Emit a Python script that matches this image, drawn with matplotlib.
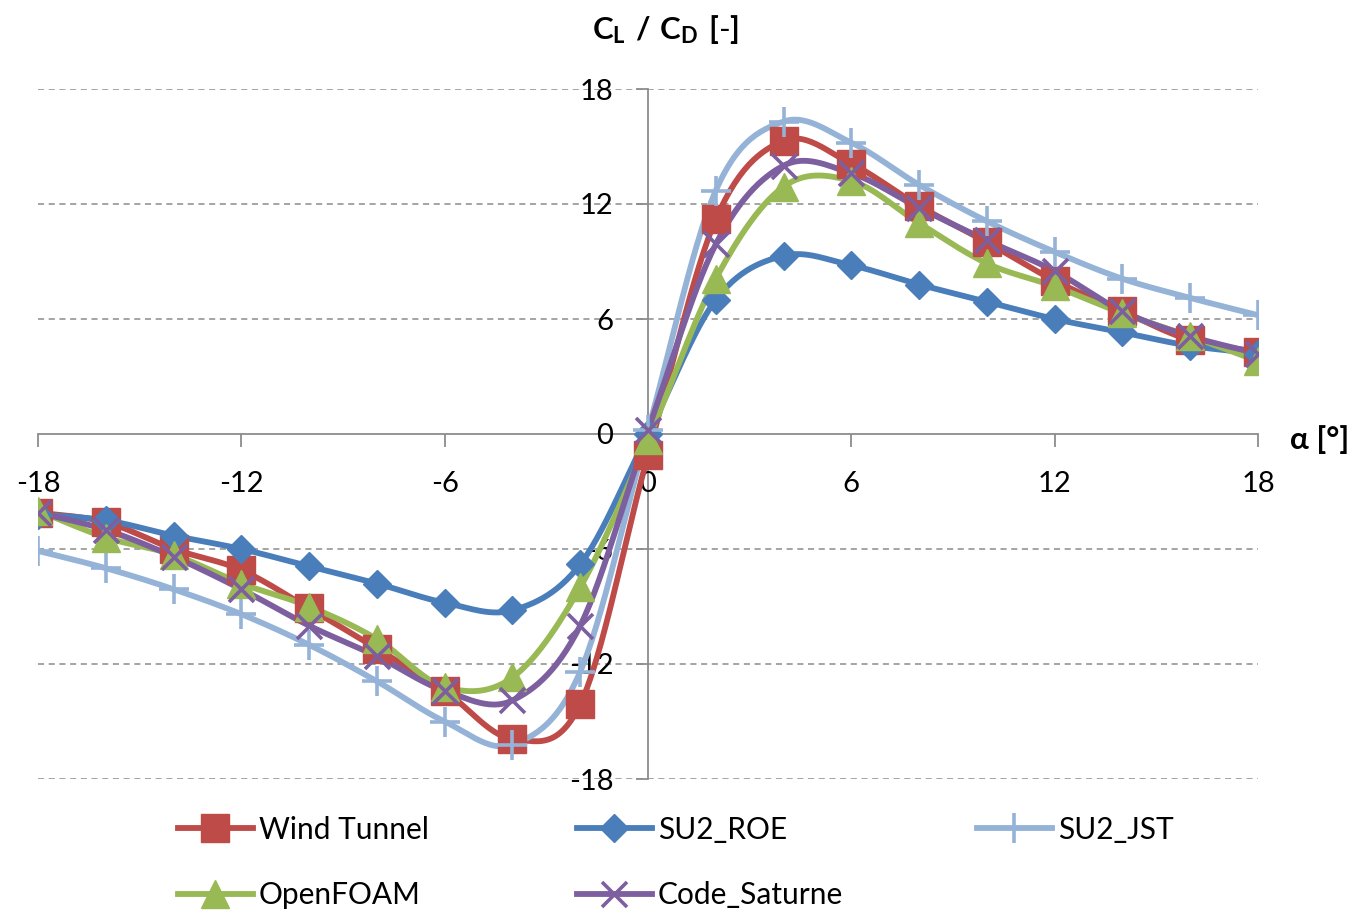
import numpy as np
import matplotlib
matplotlib.use("Agg")
import matplotlib.pyplot as plt
from matplotlib.lines import Line2D

plt.rcParams["font.family"] = ["Lato", "DejaVu Sans"]
plt.rcParams["mathtext.fontset"] = "custom"
plt.rcParams["mathtext.rm"] = "Lato"
plt.rcParams["mathtext.bf"] = "Lato:bold"

# Angle of attack [deg]
alpha = [-18, -16, -14, -12, -10, -8, -6, -4, -2, 0,
         2, 4, 6, 8, 10, 12, 14, 16, 18]

# Lift-to-drag ratio CL/CD for each source
wind_tunnel = [-4.1, -4.6, -6.0, -7.1, -9.1, -11.2, -13.4, -15.9, -14.1, -1.1,
               11.2, 15.3, 14.1, 11.9, 10.0, 8.0, 6.4, 4.9, 4.3]
su2_roe = [-4.2, -4.5, -5.3, -6.0, -6.9, -7.8, -8.8, -9.2, -6.8, 0.0,
           7.0, 9.3, 8.8, 7.8, 6.9, 6.0, 5.3, 4.6, 4.2]
su2_jst = [-6.1, -7.0, -8.1, -9.4, -11.0, -12.9, -15.0, -16.2, -12.4, 0.2,
           12.7, 16.3, 15.2, 13.0, 11.1, 9.5, 8.1, 7.1, 6.2]
openfoam = [-4.0, -5.4, -6.3, -7.8, -9.0, -10.7, -13.2, -12.7, -8.0, -0.3,
            8.1, 12.9, 13.2, 11.0, 8.9, 7.7, 6.3, 5.1, 3.8]
code_saturne = [-4.1, -5.0, -6.4, -8.1, -10.0, -11.6, -13.4, -13.9, -10.0, 0.2,
                9.9, 14.0, 13.6, 11.8, 10.1, 8.5, 6.4, 5.1, 4.2]

series_names = ["Wind Tunnel", "SU2_ROE", "SU2_JST", "OpenFOAM", "Code_Saturne"]
series_values = [wind_tunnel, su2_roe, su2_jst, openfoam, code_saturne]

x_ticks = [-18, -12, -6, 0, 6, 12, 18]
y_ticks = [-18, -12, -6, 0, 6, 12, 18]

styles = {
    "Wind Tunnel":  dict(color="#BE4B48", marker="s", ms=20, mew=1.0),
    "SU2_ROE":      dict(color="#4A7EBB", marker="D", ms=14.5, mew=1.0),
    "SU2_JST":      dict(color="#95B3D7", marker="+", ms=21, mew=2.6),
    "OpenFOAM":     dict(color="#98B954", marker="^", ms=20, mew=1.0),
    "Code_Saturne": dict(color="#7D5FA0", marker="x", ms=18, mew=2.6),
}


def smooth_curve(x, y, n=30):
    """Cardinal (Catmull-Rom) Bezier smoothing through every point."""
    x = np.asarray(x, float)
    y = np.asarray(y, float)
    pts = np.column_stack([x, y])
    ext = np.vstack([pts[0], pts, pts[-1]])
    t = np.linspace(0, 1, n)[:, None]
    out = []
    for i in range(len(pts) - 1):
        p0, p1, p2, p3 = ext[i], ext[i + 1], ext[i + 2], ext[i + 3]
        c1 = p1 + (p2 - p0) / 6.0
        c2 = p2 - (p3 - p1) / 6.0
        seg = ((1 - t) ** 3) * p1 + 3 * ((1 - t) ** 2) * t * c1 \
            + 3 * (1 - t) * t ** 2 * c2 + t ** 3 * p2
        out.append(seg if i == 0 else seg[1:])
    out = np.vstack(out)
    return out[:, 0], out[:, 1]


fig = plt.figure(figsize=(13.63, 9.16), dpi=100)
ax = fig.add_axes([38 / 1363, 1 - 779 / 916, 1220 / 1363, 690 / 916])

ax.set_xlim(-18, 18)
ax.set_ylim(-18, 18)

# dashed horizontal gridlines
for yv in y_ticks:
    if yv != 0:
        ax.axhline(yv, color="#8C8C8C", lw=1.1, ls=(0, (4, 3)), zorder=0)

lw = 4.2
handles = []
for name, vals in zip(series_names, series_values):
    st = styles[name]
    xs, ys = smooth_curve(alpha, vals)
    ax.plot(xs, ys, color=st["color"], lw=lw, solid_capstyle="round", zorder=3)
    ax.plot(alpha, vals, ls="none", marker=st["marker"], ms=st["ms"],
            mfc=st["color"], mec=st["color"], mew=st["mew"], zorder=4)
    handles.append(Line2D([], [], color=st["color"], lw=lw, marker=st["marker"],
                          ms=st["ms"], mfc=st["color"], mec=st["color"],
                          mew=st["mew"]))

# axes through the origin
for side in ("top", "right"):
    ax.spines[side].set_visible(False)
ax.spines["left"].set_position(("data", 0))
ax.spines["bottom"].set_position(("data", 0))
for side in ("left", "bottom"):
    ax.spines[side].set_color("#8C8C8C")
    ax.spines[side].set_linewidth(1.3)
    ax.spines[side].set_zorder(1)

ax.set_xticks(x_ticks)
ax.set_yticks(y_ticks)
ax.set_xticklabels([str(v) for v in x_ticks])
ax.set_yticklabels([str(v) for v in y_ticks])
ax.tick_params(axis="x", direction="out", length=9, width=1.3, color="#8C8C8C",
               labelsize=21, pad=18)
ax.tick_params(axis="y", direction="out", length=9, width=1.3, color="#8C8C8C",
               labelsize=21, pad=16)

# axis titles
fig.text(666 / 1363, 1 - 30 / 916, r"$\mathbf{C_L\ /\ C_D\ [\text{-}]}$",
         ha="center", va="center", fontsize=22.5)
fig.text(1290 / 1363, 1 - 440 / 916, "α [°]", ha="left", va="center",
         fontsize=22.5, fontweight="bold")

# legend laid out in three columns
fs_leg = 21.5
leg_kw = dict(frameon=False, fontsize=fs_leg, handlelength=2.5,
              handletextpad=0.2, labelspacing=1.25, borderpad=0,
              loc="upper left")
col_starts = [163, 562, 962]
groups = [[0, 3], [1, 4], [2]]
for xs0, grp in zip(col_starts, groups):
    fig.legend([handles[i] for i in grp], [series_names[i] for i in grp],
               bbox_to_anchor=(xs0 / 1363, 1 - 801 / 916), **leg_kw)

fig.savefig("out.png", dpi=100)
